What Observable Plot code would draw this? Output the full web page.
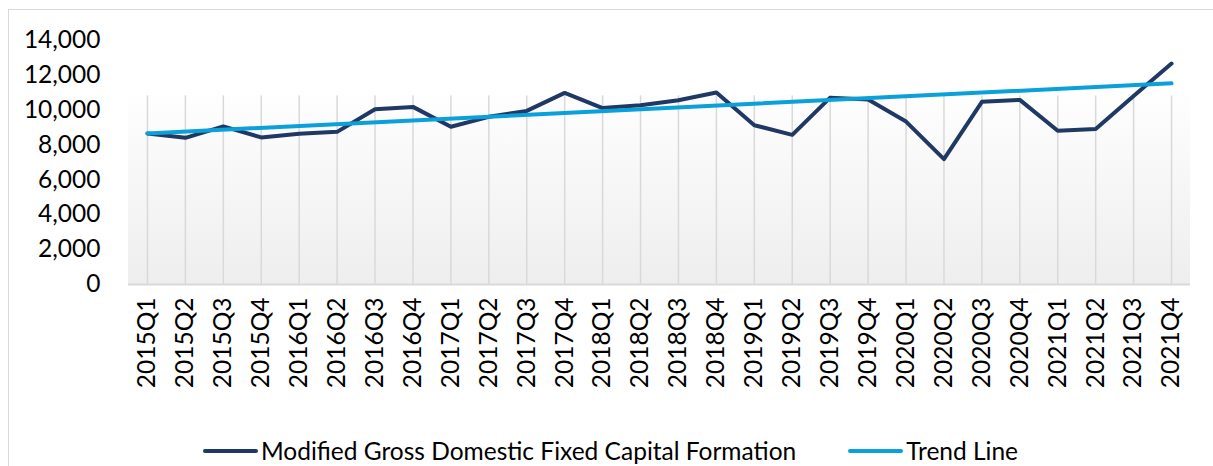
<!DOCTYPE html>
<html>
<head>
<meta charset="utf-8">
<script src="https://cdn.jsdelivr.net/npm/d3@7"></script>
<script src="https://cdn.jsdelivr.net/npm/@observablehq/plot@0.6"></script>
<style>
  html, body { margin: 0; padding: 0; background: #fff; overflow: hidden; }
  body { width: 1213px; height: 466px; position: relative; font-family: Lato, "Open Sans", sans-serif; }
  #frame { position: absolute; left: 8px; top: 9px; width: 1400px; height: 700px; border: 1.5px solid #d9d9d9; box-sizing: border-box; pointer-events: none; }
  #chart { position: absolute; left: 0; top: 0; }
  #legend { position: absolute; left: 4px; width: 1213px; top: 436px; display: flex; justify-content: center; align-items: center; gap: 52px; font-size: 24.5px; color: #000; }
  .item { display: flex; align-items: center; }
  .sw { width: 55px; height: 4px; border-radius: 2px; margin-right: 3px; }
</style>
</head>
<body>
<div id="frame"></div>
<div id="chart"></div>
<div id="legend"></div>
<script>
const quarters = ["2015Q1","2015Q2","2015Q3","2015Q4","2016Q1","2016Q2","2016Q3","2016Q4",
  "2017Q1","2017Q2","2017Q3","2017Q4","2018Q1","2018Q2","2018Q3","2018Q4",
  "2019Q1","2019Q2","2019Q3","2019Q4","2020Q1","2020Q2","2020Q3","2020Q4",
  "2021Q1","2021Q2","2021Q3","2021Q4"];
const gfcfValues = [8650, 8400, 9050, 8420, 8630, 8740, 10040, 10170,
  9030, 9600, 9940, 10970, 10100, 10270, 10550, 10990,
  9120, 8570, 10700, 10590, 9330, 7180, 10460, 10570,
  8800, 8910, 10800, 12650];
const trendQuarters = ["2015Q1", "2021Q4"];
const trendValues = [8650, 11520];
const yTicks = [0, 2000, 4000, 6000, 8000, 10000, 12000, 14000];
const seriesNames = ["Modified Gross Domestic Fixed Capital Formation", "Trend Line"];
const colors = ["#1f3864", "#0aa0da"];
const bgTop = 10800; // top of shaded plot-area background (value units)

const gfcf = quarters.map((q, i) => ({q, v: gfcfValues[i]}));
const trend = trendQuarters.map((q, i) => ({q, v: trendValues[i]}));

const plot = Plot.plot({
  width: 1213,
  height: 400,
  marginLeft: 128,
  marginRight: 23,
  marginTop: 39.5,
  marginBottom: 116,
  style: {fontFamily: "Lato", fontSize: "24.5px", color: "#000", background: "transparent"},
  x: {type: "point", domain: quarters, padding: 0.5, round: false},
  y: {domain: [0, 14000]},
  marks: [
    Plot.rect([0], {x1: () => quarters[0], x2: () => quarters[quarters.length - 1], y1: 0, y2: bgTop, fill: "url(#bgGrad)", insetLeft: -19, insetRight: -19}),
    Plot.ruleX(quarters, {x: d => d, y1: 0, y2: bgTop, stroke: "#d9d9d9", strokeWidth: 1.5}),
    Plot.ruleY([0], {stroke: "#d9d9d9", strokeWidth: 2}),
    Plot.axisY({ticks: yTicks, tickFormat: d3.format(","), tickSize: 0, tickPadding: 28, label: null, fontSize: 24.5, fill: "#000"}),
    Plot.axisX({tickSize: 0, tickPadding: 13, tickRotate: -90, label: null, fontSize: 24.5, fill: "#000"}),
    Plot.line(gfcf, {x: "q", y: "v", stroke: colors[0], strokeWidth: 4, strokeLinejoin: "round", strokeLinecap: "round"}),
    Plot.line(trend, {x: "q", y: "v", stroke: colors[1], strokeWidth: 4, strokeLinecap: "round"})
  ]
});

// gradient definition for the plot-area background
const ns = "http://www.w3.org/2000/svg";
const defs = document.createElementNS(ns, "defs");
defs.innerHTML = '<linearGradient id="bgGrad" x1="0" y1="0" x2="0" y2="1"><stop offset="0" stop-color="#fefefe"/><stop offset="1" stop-color="#eeeeee"/></linearGradient>';
plot.insertBefore(defs, plot.firstChild);
document.getElementById("chart").appendChild(plot);

const legend = document.getElementById("legend");
seriesNames.forEach((name, i) => {
  const item = document.createElement("div");
  item.className = "item";
  const sw = document.createElement("div");
  sw.className = "sw";
  sw.style.background = colors[i];
  const t = document.createElement("span");
  t.textContent = name;
  item.appendChild(sw);
  item.appendChild(t);
  legend.appendChild(item);
});
</script>
</body>
</html>
